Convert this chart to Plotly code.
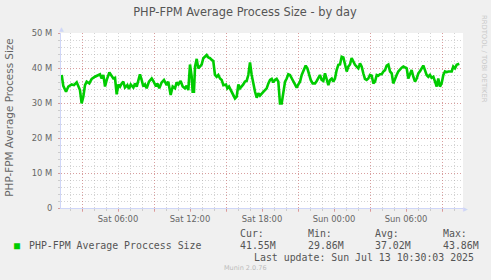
import plotly.graph_objects as go

# ---------------- data ----------------
# time in hours since Sat 00:00 ; values in M (megabytes)
hours = [1.31, 1.44, 1.67, 1.86, 2.14, 2.33, 2.56, 2.69, 2.83, 2.97, 3.11, 3.25, 3.39, 3.61, 3.81, 4.08, 4.36, 4.50, 4.64, 4.78,
         4.92, 5.06, 5.28, 5.47, 5.61, 5.75, 5.89, 6.03, 6.17, 6.31, 6.44, 6.58, 6.78, 6.92, 7.06, 7.28, 7.42, 7.56, 7.69, 7.83,
         7.97, 8.11, 8.25, 8.39, 8.58, 8.81, 8.94, 9.17, 9.28, 9.44, 9.64, 9.83, 10.06, 10.19, 10.39, 10.56, 10.75, 10.89, 11.03, 11.22,
         11.39, 11.58, 11.72, 11.86, 12.00, 12.14, 12.22, 12.33, 12.42, 12.56, 12.69, 12.83, 12.97, 13.11, 13.25, 13.39, 13.53, 13.67, 13.81, 13.94,
         14.08, 14.22, 14.36, 14.50, 14.64, 14.78, 15.00, 15.11, 15.25, 15.39, 15.56, 15.75, 15.89, 16.03, 16.17, 16.31, 16.44, 16.58, 16.72, 16.86,
         17.00, 17.14, 17.28, 17.42, 17.56, 17.69, 17.83, 17.97, 18.11, 18.25, 18.39, 18.53, 18.67, 18.81, 18.94, 19.08, 19.22, 19.36, 19.50, 19.64,
         19.78, 19.92, 20.06, 20.19, 20.33, 20.47, 20.61, 20.75, 20.89, 21.03, 21.17, 21.31, 21.44, 21.64, 21.78, 21.92, 22.06, 22.22, 22.42, 22.56,
         22.69, 22.83, 22.97, 23.11, 23.25, 23.39, 23.53, 23.67, 23.81, 23.94, 24.08, 24.22, 24.36, 24.50, 24.64, 24.78, 24.92, 25.06, 25.19, 25.33,
         25.47, 25.61, 25.75, 25.89, 26.03, 26.17, 26.31, 26.44, 26.58, 26.72, 26.86, 27.00, 27.14, 27.28, 27.42, 27.56, 27.69, 27.83, 27.97, 28.11,
         28.25, 28.39, 28.53, 28.67, 28.81, 28.94, 29.08, 29.22, 29.36, 29.50, 29.64, 29.78, 29.92, 30.06, 30.19, 30.33, 30.47, 30.61, 30.75, 30.89,
         31.03, 31.17, 31.31, 31.44, 31.58, 31.72, 31.86, 32.00, 32.14, 32.28, 32.42, 32.56, 32.69, 32.83, 32.97, 33.11, 33.25, 33.39, 33.53, 33.67,
         33.81, 33.94, 34.08, 34.22, 34.36, 34.44]
avg_size_m = [38.0, 34.9, 33.2, 34.7, 35.3, 35.1, 35.9, 34.7, 33.7, 29.9, 31.8, 35.1, 36.1, 35.6, 36.9, 37.5, 38.0, 38.2, 37.0, 38.0,
              34.7, 36.6, 38.7, 37.5, 37.0, 37.2, 32.5, 35.3, 34.7, 35.6, 36.1, 34.4, 35.1, 34.0, 35.3, 34.4, 35.6, 34.7, 36.1, 38.2,
              36.6, 34.7, 35.3, 34.2, 36.1, 37.0, 36.3, 34.7, 35.6, 34.2, 35.9, 36.6, 35.1, 36.1, 32.3, 34.7, 34.2, 35.9, 35.3, 36.3,
              34.7, 34.2, 34.9, 33.7, 41.0, 37.5, 33.2, 33.2, 40.4, 42.6, 39.9, 40.4, 41.0, 42.8, 43.2, 43.7, 43.0, 42.8, 42.3, 42.0,
              38.0, 37.5, 38.0, 37.0, 36.6, 35.1, 35.3, 34.2, 34.7, 33.7, 32.8, 31.3, 31.8, 35.3, 34.2, 34.7, 35.3, 36.1, 36.3, 38.0,
              41.6, 38.0, 35.1, 33.2, 31.5, 32.8, 32.1, 32.8, 33.2, 33.7, 34.2, 35.6, 36.6, 36.9, 35.9, 36.6, 36.9, 36.1, 29.9, 29.9,
              33.2, 36.1, 37.0, 38.2, 38.0, 37.0, 36.1, 35.3, 34.4, 35.3, 36.1, 38.0, 39.0, 40.7, 39.9, 38.0, 36.6, 35.6, 35.6, 36.3,
              37.2, 38.0, 36.6, 36.3, 38.5, 37.0, 35.1, 36.6, 37.0, 36.1, 37.0, 39.4, 40.9, 41.0, 43.2, 43.0, 40.9, 39.0, 40.4, 41.0,
              42.8, 41.6, 40.9, 40.4, 39.9, 41.3, 40.4, 38.5, 36.9, 36.6, 37.0, 38.0, 37.8, 35.6, 36.1, 38.0, 37.8, 38.2, 38.2, 39.0,
              39.4, 40.7, 41.0, 39.0, 38.5, 35.6, 37.0, 38.0, 39.0, 39.7, 40.1, 40.4, 40.1, 39.9, 37.0, 38.0, 39.4, 37.5, 36.1, 37.0,
              38.5, 39.1, 39.9, 40.7, 39.4, 38.0, 37.5, 38.0, 37.2, 37.5, 36.1, 34.7, 37.0, 34.7, 35.6, 38.0, 39.0, 38.8, 39.0, 39.1,
              39.0, 40.4, 39.9, 40.9, 41.0, 41.2]

x_range = [1.25, 34.75]
major_grid_hours = [3, 9, 15, 21, 27, 33]
label_hours = [6, 12, 18, 24, 30]
label_text = ["Sat 06:00", "Sat 12:00", "Sat 18:00", "Sun 00:00", "Sun 06:00"]
y_ticks = [0, 10, 20, 30, 40, 50]
y_tick_text = ["0", "10 M", "20 M", "30 M", "40 M", "50 M"]

title = "PHP-FPM Average Process Size - by day"
y_title = "PHP-FPM Average Process Size"
series_name = "PHP-FPM Average Proccess Size"
stat_labels = ["Cur:", "Min:", "Avg:", "Max:"]
stat_values = ["41.55M", "29.86M", "37.02M", "43.86M"]
last_update = "Last update: Sun Jul 13 10:30:03 2025"
footer = "Munin 2.0.76"
side_text = "RRDTOOL / TOBI OETIKER"

# ---------------- styling ----------------
W, H = 491, 280
L, R, T, B = 61, 463, 33, 208
FONT = "DejaVu Sans"
MONO = "DejaVu Sans Mono"
TXT = "#666666"
GREEN = "#00CC00"
AXIS = "#CFD6F8"
MGRID = "rgba(225,95,95,0.45)"
GRID = "rgba(160,160,160,0.45)"
DASH = "1px,2px"


def px(x):
    return (x - L) / (R - L)


def py(y):
    return (B - y) / (B - T)


fig = go.Figure()
fig.add_trace(go.Scatter(x=hours, y=avg_size_m, mode="lines",
                         line=dict(color=GREEN, width=2.6),
                         showlegend=False, hoverinfo="skip"))
fig.add_trace(go.Scatter(x=[None], y=[None], xaxis="x2", showlegend=False, hoverinfo="skip"))

fig.update_layout(
    width=W, height=H,
    margin=dict(l=L, r=W - R, t=T, b=H - B, pad=0),
    paper_bgcolor="#F0F0F0",
    plot_bgcolor="#FFFFFF",
    showlegend=False,
    title=dict(text=title, x=245 / W, xanchor="center", xref="container",
               y=1 - 12 / H, yanchor="middle", yref="container",
               font=dict(family=FONT, size=11.4, color="#555555")),
    xaxis=dict(range=x_range, tickmode="array", tickvals=major_grid_hours,
               showticklabels=False, showgrid=True, gridcolor=MGRID,
               griddash=DASH, gridwidth=1, ticks="outside", ticklen=3,
               tickcolor=MGRID, tickwidth=1, showline=True, linecolor=AXIS,
               linewidth=1, zeroline=False, fixedrange=True,
               minor=dict(dtick=1, tick0=0, showgrid=True, gridcolor=GRID,
                          griddash=DASH, gridwidth=1, ticks="outside",
                          ticklen=2, tickcolor=GRID)),
    xaxis2=dict(range=x_range, overlaying="x", anchor="y", side="bottom",
                tickmode="array", tickvals=label_hours, ticktext=label_text,
                showgrid=False, zeroline=False, showline=False,
                ticks="outside", ticklen=3, tickcolor=MGRID,
                tickfont=dict(family=FONT, size=8.4, color=TXT)),
    yaxis=dict(range=[0, 50], tickmode="array", tickvals=y_ticks,
               ticktext=y_tick_text, showgrid=True, gridcolor=MGRID,
               griddash=DASH, gridwidth=1, ticks="outside", ticklen=2,
               tickcolor=MGRID, showline=True, linecolor=AXIS, linewidth=1,
               zeroline=False, tickfont=dict(family=FONT, size=8.4, color=TXT),
               ticklabelstandoff=4,
               minor=dict(dtick=2, tick0=0, showgrid=True, gridcolor=GRID,
                          griddash=DASH, gridwidth=1, ticks="outside",
                          ticklen=2, tickcolor=GRID)),
)

ann = []
# y-axis title
ann.append(dict(text=y_title, x=px(8.7), y=py(118), xref="paper", yref="paper",
                textangle=-90, xanchor="center", yanchor="middle", showarrow=False,
                font=dict(family=FONT, size=10.4, color=TXT)))
# axis arrows
ann.append(dict(text="▲", x=px(61), y=py(29), xref="paper", yref="paper",
                xanchor="center", yanchor="middle", showarrow=False,
                font=dict(family=FONT, size=6, color=AXIS)))
ann.append(dict(text="▶", x=px(466), y=py(208), xref="paper", yref="paper",
                xanchor="center", yanchor="middle", showarrow=False,
                font=dict(family=FONT, size=6, color=AXIS)))
# legend
ann.append(dict(text="■", x=px(17), y=py(245), xref="paper", yref="paper",
                xanchor="center", yanchor="middle", showarrow=False,
                font=dict(family=MONO, size=10, color=GREEN)))
ann.append(dict(text=series_name, x=px(27), y=py(245), xref="paper", yref="paper",
                xanchor="left", yanchor="middle", showarrow=False,
                font=dict(family=MONO, size=9.9, color="#555555")))
stat_x = [238, 306, 373, 441]
for sx, lab, val in zip(stat_x, stat_labels, stat_values):
    ann.append(dict(text=lab, x=px(sx), y=py(233), xref="paper", yref="paper",
                    xanchor="left", yanchor="middle", showarrow=False,
                    font=dict(family=MONO, size=9.9, color="#555555")))
    ann.append(dict(text=val, x=px(sx), y=py(245), xref="paper", yref="paper",
                    xanchor="left", yanchor="middle", showarrow=False,
                    font=dict(family=MONO, size=9.9, color="#555555")))
ann.append(dict(text=last_update, x=px(476), y=py(257), xref="paper", yref="paper",
                xanchor="right", yanchor="middle", showarrow=False,
                font=dict(family=MONO, size=9.9, color="#555555")))
ann.append(dict(text=footer, x=px(245), y=py(268), xref="paper", yref="paper",
                xanchor="center", yanchor="middle", showarrow=False,
                font=dict(family=FONT, size=6.5, color="#BBBBBB")))
ann.append(dict(text=side_text, x=px(484), y=py(59), xref="paper", yref="paper",
                textangle=90, xanchor="center", yanchor="middle", showarrow=False,
                font=dict(family=FONT, size=6.8, color="#C8C8C8")))
fig.update_layout(annotations=ann)

fig.write_html("out.html")
